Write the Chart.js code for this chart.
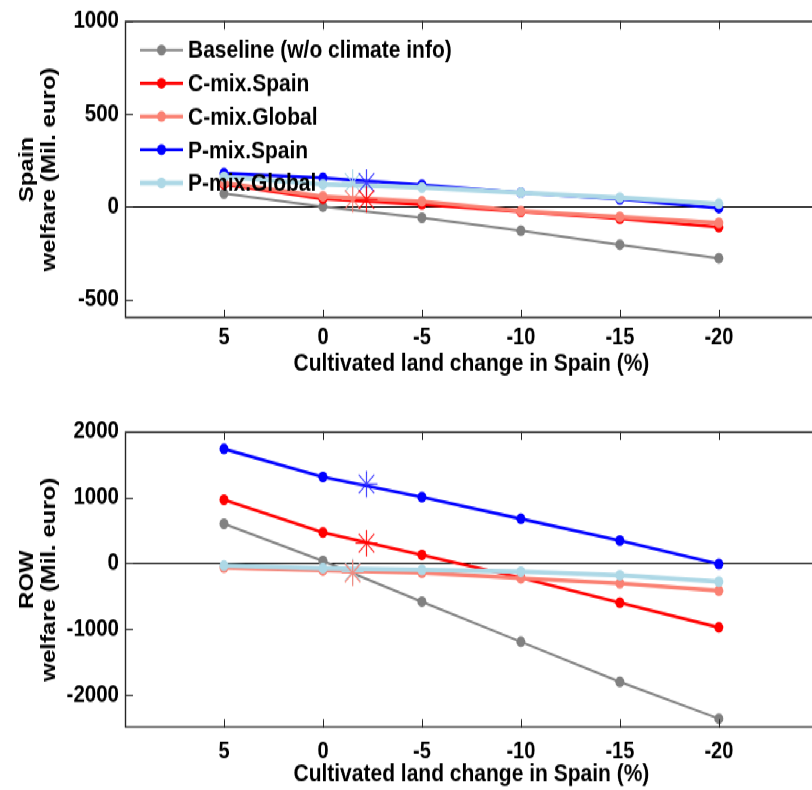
<!DOCTYPE html>
<html><head><meta charset="utf-8">
<script src="https://cdn.jsdelivr.net/npm/chart.js@4.4.1/dist/chart.umd.min.js"></script>
<style>
html,body{margin:0;padding:0;overflow:hidden;background:#fff;width:812px;height:790px;}
#wrap{position:absolute;left:0;top:0;width:830px;height:658px;transform:scaleY(1.2);transform-origin:0 0;}
canvas{position:absolute;left:0;}
</style></head><body>
<div id="wrap">
<canvas id="c1" width="830" height="329" style="top:0px"></canvas>
<canvas id="c2" width="830" height="329" style="top:329px"></canvas>
</div>
<script>
// ---------- data ----------
const xValues = [5, 0, -5, -10, -15, -20];
const xTickLabels = [5, 0, -5, -10, -15, -20];
const seriesNames = ['Baseline (w/o climate info)', 'C-mix.Spain', 'C-mix.Global', 'P-mix.Spain', 'P-mix.Global'];

// Spain welfare (Mil. euro)
const spainBaseline = [70, 0, -60, -130, -205, -278];
const spainCmixSpain = [120, 42, 12, -28, -65, -110];
const spainCmixGlobal = [128, 55, 28, -24, -55, -88];
const spainPmixSpain = [180, 155, 118, 75, 40, -8];
const spainPmixGlobal = [160, 120, 103, 75, 48, 15];

// ROW welfare (Mil. euro)
const rowBaseline = [599, 35, -585, -1195, -1805, -2363];
const rowCmixSpain = [965, 467, 127, -220, -600, -976];
const rowCmixGlobal = [-67, -110, -143, -229, -305, -418];
const rowPmixSpain = [1738, 1311, 1006, 675, 345, -11];
const rowPmixGlobal = [-36, -77, -102, -128, -183, -280];

// star markers (climate-info optimum)
const starSeries = ['C-mix.Spain', 'C-mix.Global', 'P-mix.Spain', 'P-mix.Global'];
const starX = [-2.2, -1.5, -2.2, -1.5];
const spainStarY = [38, 38, 130, 130];
const rowStarY = [305, -148, 1204, -128];

const spainYTicks = [1000, 500, 0, -500];
const rowYTicks = [2000, 1000, 0, -1000, -2000];

// ---------- styles ----------
const FONT = '"Liberation Sans", Arial, Helvetica, sans-serif';
const seriesColors = {
  'Baseline (w/o climate info)': '#808080',
  'C-mix.Spain': '#ff0000',
  'C-mix.Global': '#fa8072',
  'P-mix.Spain': '#0000ff',
  'P-mix.Global': '#add8e6'
};
const seriesWidths = {
  'Baseline (w/o climate info)': 2,
  'C-mix.Spain': 2.6,
  'C-mix.Global': 3.4,
  'P-mix.Spain': 2.6,
  'P-mix.Global': 3.8
};
const starColors = {
  'C-mix.Spain': 'rgba(255,0,0,0.85)',
  'C-mix.Global': 'rgba(250,128,114,0.85)',
  'P-mix.Spain': 'rgba(40,40,255,0.85)',
  'P-mix.Global': 'rgba(173,216,230,0.95)'
};

function buildDatasets(valuesList, starY) {
  const ds = valuesList.map((vals, i) => {
    const name = seriesNames[i];
    const c = seriesColors[name];
    return {
      label: name,
      data: xValues.map((x, k) => ({x: x, y: vals[k]})),
      borderColor: c,
      backgroundColor: c,
      borderWidth: seriesWidths[name],
      pointRadius: 4.5,
      pointBorderWidth: 0,
      pointBackgroundColor: c,
      showLine: true,
      order: 5 - i,
      isStar: false
    };
  });
  starSeries.forEach((name, j) => {
    ds.push({
      label: name + ' *',
      data: [{x: starX[j], y: starY[j]}],
      showLine: false,
      pointStyle: 'star',
      pointRadius: 11,
      pointBorderWidth: 1.2,
      pointBorderColor: starColors[name],
      borderColor: starColors[name],
      backgroundColor: starColors[name],
      order: 0,
      isStar: true
    });
  });
  return ds;
}

const framePlugin = {
  id: 'frame',
  afterDraw(chart) {
    const {ctx, chartArea: a, scales: {x, y}} = chart;
    ctx.save();
    ctx.strokeStyle = '#262626';
    ctx.lineWidth = 1.4;
    ctx.beginPath();
    ctx.moveTo(a.right + 10, a.top + 0.5);
    ctx.lineTo(a.left + 0.5, a.top + 0.5);
    ctx.lineTo(a.left + 0.5, a.bottom - 0.5);
    ctx.lineTo(a.right + 10, a.bottom - 0.5);
    ctx.stroke();
    ctx.lineWidth = 1;
    ctx.beginPath();
    x.ticks.forEach(t => {
      const px = Math.round(x.getPixelForValue(t.value)) + 0.5;
      ctx.moveTo(px, a.top); ctx.lineTo(px, a.top + 7);
      ctx.moveTo(px, a.bottom); ctx.lineTo(px, a.bottom - 7);
    });
    y.ticks.forEach(t => {
      const py = Math.round(y.getPixelForValue(t.value)) + 0.5;
      ctx.moveTo(a.left, py); ctx.lineTo(a.left + 8, py);
    });
    ctx.stroke();
    ctx.restore();
  }
};

const legendPlugin = {
  id: 'mlegend',
  afterDraw(chart, args, opts) {
    if (!opts || !opts.show) return;
    const ctx = chart.ctx;
    const items = chart.data.datasets.filter(d => !d.isStar);
    ctx.save();
    items.forEach((d, i) => {
      const yy = opts.y0 + i * opts.dy;
      ctx.strokeStyle = d.borderColor;
      ctx.lineWidth = d.borderWidth;
      ctx.beginPath(); ctx.moveTo(opts.x0, yy); ctx.lineTo(opts.x1, yy); ctx.stroke();
      ctx.fillStyle = d.borderColor;
      ctx.beginPath(); ctx.arc((opts.x0 + opts.x1) / 2, yy, 4.5, 0, Math.PI * 2); ctx.fill();
      ctx.fillStyle = '#000';
      ctx.font = 'bold 21px ' + FONT;
      ctx.textBaseline = 'middle';
      ctx.textAlign = 'left';
      ctx.fillText(d.label, opts.tx, yy + 1);
    });
    ctx.restore();
  }
};

function makeChart(id, valuesList, starY, yMin, yMax, yTicks, yTitle, p) {
  return new Chart(document.getElementById(id), {
    type: 'scatter',
    data: {datasets: buildDatasets(valuesList, starY)},
    plugins: [framePlugin, legendPlugin],
    options: {
      responsive: false,
      animation: false,
      layout: {padding: {top: p.padTop, left: 0, right: 9, bottom: 0}},
      plugins: {
        legend: {display: false},
        tooltip: {enabled: false},
        mlegend: p.legend
      },
      scales: {
        x: {
          type: 'linear', min: -25, max: 10, reverse: true,
          afterBuildTicks: ax => { ax.ticks = xTickLabels.map(v => ({value: v})); },
          afterFit: ax => { ax.height = p.xHeight; },
          grid: {display: false, drawTicks: false},
          border: {display: false},
          ticks: {padding: p.xTickPad, color: '#000', maxRotation: 0, autoSkip: false,
                  callback: v => String(v),
                  font: {family: FONT, size: 20, weight: 'bold'}},
          title: {display: true, text: 'Cultivated land change in Spain (%)', color: '#000',
                  font: {family: FONT, size: 21, weight: 'bold'}, padding: {top: 0, bottom: p.xTitlePad}}
        },
        y: {
          type: 'linear', min: yMin, max: yMax,
          afterBuildTicks: ax => { ax.ticks = yTicks.map(v => ({value: v})); },
          afterFit: ax => { ax.width = 125; },
          grid: {drawTicks: false, lineWidth: 1,
                 color: c => (c.tick && c.tick.value === 0) ? '#000' : 'rgba(0,0,0,0)'},
          border: {display: false},
          ticks: {padding: 6, color: '#000', callback: v => String(v),
                  font: {family: FONT, size: 20.5, weight: 'bold', lineHeight: 1}},
          title: {display: true, text: yTitle, color: '#000',
                  font: {family: FONT, size: 20, weight: 'bold', lineHeight: 1.1}, padding: {top: 16, bottom: 0}}
        }
      }
    }
  });
}

makeChart('c1',
  [spainBaseline, spainCmixSpain, spainCmixGlobal, spainPmixSpain, spainPmixGlobal],
  spainStarY, -600, 1000, spainYTicks, ['Spain', 'welfare (Mil. euro)'],
  {padTop: 17.5, xHeight: 64, xTickPad: 4, xTitlePad: 13,
   legend: {show: true, x0: 140, x1: 183, tx: 188, y0: 41.7, dy: 27.7}});

makeChart('c2',
  [rowBaseline, rowCmixSpain, rowCmixGlobal, rowPmixSpain, rowPmixGlobal],
  rowStarY, -2500, 2000, rowYTicks, ['ROW', 'welfare (Mil. euro)'],
  {padTop: 30.75, xHeight: 51.6, xTickPad: 8, xTitlePad: 0,
   legend: {show: false}});
</script>
</body></html>
